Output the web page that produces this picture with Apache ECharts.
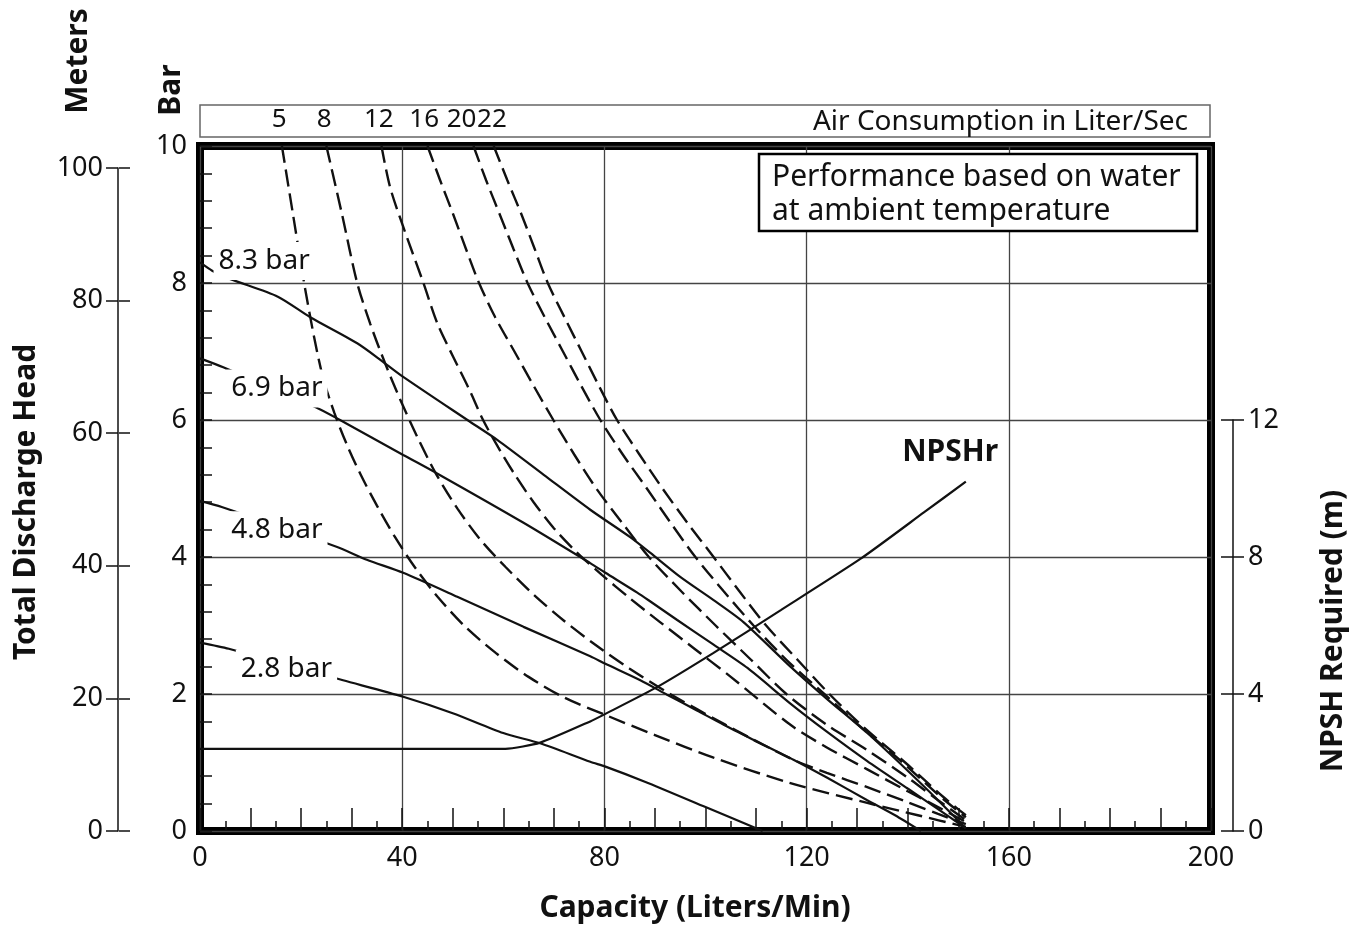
<!DOCTYPE html>
<html><head><meta charset="utf-8">
<script src="https://cdn.jsdelivr.net/npm/echarts@6/dist/echarts.min.js"></script>
<style>html,body{margin:0;padding:0;background:#fff}#c{width:1364px;height:927px}</style>
</head><body><div id="c"></div>
<script>
// ---------- DATA ----------
// Capacity (L/min) vs head (bar) for constant air-consumption curves (dashed)
const air5  = [[16.2,10],[18.4,9],[20.6,8],[22.6,7.2],[24.4,6.6],[26.6,6.1],[29,5.65],[31.8,5.2],[35,4.75],[38.5,4.3],[42.5,3.85],[47,3.42],[52.5,2.98],[58.5,2.6],[65,2.25],[72,1.95],[80,1.7],[90,1.4],[101.6,1.07],[116.8,0.7],[132,0.41],[142,0.23],[151.5,0.06]];
const air8  = [[25,10],[28.1,9],[31.1,8],[33.7,7.4],[36.5,6.85],[39.6,6.3],[43,5.75],[46.8,5.2],[51,4.7],[55.5,4.25],[60.5,3.85],[66,3.45],[72,3.07],[78,2.73],[85,2.37],[93,2.0],[104,1.55],[116.8,1.06],[124,0.85],[132,0.64],[140,0.42],[146,0.25],[151.5,0.1]];
const air12 = [[35.9,10],[37.6,9.4],[40.3,8.8],[44.2,8.0],[46.9,7.42],[50.1,6.92],[53.3,6.44],[56,6.0],[59,5.6],[62.3,5.2],[66,4.8],[70,4.42],[74.5,4.07],[79.5,3.74],[85,3.4],[91,3.05],[98,2.65],[105,2.25],[116.8,1.55],[124,1.22],[132,0.9],[140,0.58],[146,0.35],[151.5,0.13]];
const air16 = [[45,10],[47.5,9.5],[50.1,9],[52.6,8.5],[55.2,8],[58.4,7.5],[62.2,7],[66,6.5],[69.9,6],[74,5.5],[78.4,5],[83.5,4.5],[88.8,4],[95.2,3.5],[102,3],[109,2.5],[116,2],[124,1.55],[132,1.18],[140,0.78],[146,0.45],[151.5,0.16]];
const air20 = [[54.1,10],[56.6,9.5],[59.3,9],[62,8.5],[64.8,8],[68.2,7.5],[71.8,7],[75.4,6.5],[79.2,6],[83.6,5.5],[88.4,5],[93.1,4.5],[98,4],[103.6,3.5],[109.5,3],[116,2.5],[123.5,2],[131,1.5],[139,1],[146.5,0.5],[151.5,0.2]];
const air22 = [[58.1,10],[60.8,9.5],[63.6,9],[66.2,8.5],[68.8,8],[72.1,7.5],[75.5,7],[78.9,6.5],[82.5,6],[86.9,5.5],[91.5,5],[96.4,4.5],[101.6,4],[106.7,3.5],[112,3],[118.2,2.5],[124.5,2],[131.5,1.5],[139.5,1],[147,0.5],[151.5,0.23]];
// Constant air-pressure curves (solid)
const p83 = [[0,8.3],[2.4,8.18],[5.9,8.06],[15.4,7.8],[21.8,7.5],[31.1,7.12],[36.2,6.85],[40.2,6.63],[52.9,6.0],[58.8,5.71],[68,5.2],[77.2,4.69],[85.1,4.29],[89.1,4.06],[95,3.71],[101.6,3.37],[107.5,3.05],[116.8,2.4],[124,1.93],[132,1.43],[140,0.88],[146,0.45],[151.5,0.04]];
const p69 = [[0,6.9],[4.6,6.77],[22.8,6.19],[27.7,6.0],[40.2,5.49],[46.9,5.22],[64,4.5],[77.2,3.91],[80.2,3.77],[86.5,3.48],[89.1,3.35],[94.4,3.08],[101.6,2.72],[108.3,2.38],[116.8,1.86],[124,1.45],[132,1.02],[140,0.62],[146,0.32],[151.5,0.04]];
const p48 = [[0,4.82],[4.3,4.73],[27,4.15],[33,3.96],[40.2,3.77],[50.9,3.42],[64,2.98],[77.2,2.55],[80.2,2.44],[87.1,2.2],[92.4,1.99],[98.3,1.76],[103.6,1.55],[109.5,1.33],[117.4,1.04],[124,0.78],[132,0.45],[137.5,0.23],[142.6,0]];
const p28 = [[0,2.75],[5.7,2.66],[28.3,2.2],[40.2,1.96],[50,1.72],[60,1.43],[67.3,1.28],[77.2,1.01],[80.2,0.94],[88,0.72],[100,0.35],[111.3,0]];
// NPSH required (m)
const npshr = [[0,2.4],[60.4,2.4],[67.3,2.58],[77.2,3.2],[80.2,3.42],[90.4,4.2],[101.6,5.2],[114.9,6.45],[130.7,7.95],[143.2,9.3],[151.5,10.2]];

const airNames = ['5','8','12','16','20','22'];
const airLabelAt = [15.7,24.6,35.4,44.4,51.8,57.8];
const pressureNames = ['8.3 bar','6.9 bar','4.8 bar','2.8 bar'];
const pressureLabelAt = [[12.7,8.32],[15.2,6.46],[15.2,4.39],[17.1,2.37]];
const npshName = 'NPSHr';
const npshLabelAt = [148.4,5.52];

const capacityTicks = [0,40,80,120,160,200];
const barTicks = [0,2,4,6,8,10];
const meterTicks = [0,20,40,60,80,100];
const npshTicks = [0,4,8,12];

// ---------- CHART ----------
const FONT = "'Noto Sans', sans-serif";
const INK = '#111';
const chart = echarts.init(document.getElementById('c'));
const tickStyle = {color: INK, width: 1.5};

const dashed = [[air5,'5'],[air8,'8'],[air12,'12'],[air16,'16'],[air20,'20'],[air22,'22']].map(([d,n]) => ({
  type:'line', name:'air'+n, data:d, xAxisIndex:0, yAxisIndex:0, symbol:'none', smooth:0.3,
  lineStyle:{color:INK, width:2.4, type:[17,7]}, silent:true, z:2
}));
const solid = [[p83,'8.3'],[p69,'6.9'],[p48,'4.8'],[p28,'2.8']].map(([d,n]) => ({
  type:'line', name:'p'+n, data:d, xAxisIndex:0, yAxisIndex:0, symbol:'none', smooth:0.25,
  lineStyle:{color:INK, width:2.2}, silent:true, z:3
}));

const option = {
  animation:false,
  backgroundColor:'#fff',
  textStyle:{fontFamily:FONT, color:INK},
  grid:[
    {left:200, top:146, width:1011, height:685, show:true, borderWidth:8, borderColor:'#000', backgroundColor:'transparent', z:0},
    {left:118, top:168, width:1, height:663},
    {left:1233, top:420, width:1, height:411},
    {left:200, top:105, width:1010, height:32, show:true, borderWidth:1.5, borderColor:'#666'}
  ],
  xAxis:[
    {gridIndex:0, type:'value', min:0, max:200, interval:10, position:'bottom',
      axisLine:{show:false},
      axisTick:{show:true, inside:true, length:23, lineStyle:tickStyle},
      minorTick:{show:true, splitNumber:2, length:10, lineStyle:tickStyle},
      axisLabel:{fontSize:27, color:INK, margin:14, formatter:v => capacityTicks.includes(v) ? String(v) : ''},
      splitLine:{show:false}},
    {gridIndex:0, type:'value', min:0, max:200, interval:40, position:'top',
      axisLine:{show:false}, axisTick:{show:false}, axisLabel:{show:false},
      splitLine:{show:true, lineStyle:{color:'#444', width:1.3}}},
    {gridIndex:1, type:'value', min:0, max:1, show:false},
    {gridIndex:2, type:'value', min:0, max:1, show:false},
    {gridIndex:3, type:'value', min:0, max:200, position:'bottom',
      axisLine:{show:false}, axisTick:{show:false}, splitLine:{show:false},
      axisLabel:{show:true, inside:true, margin:4, fontSize:26, color:INK, customValues:airLabelAt,
        formatter:v => airNames[airLabelAt.indexOf(v)] ?? ''}}
  ],
  yAxis:[
    {gridIndex:0, type:'value', min:0, max:10, interval:2, position:'left',
      axisLine:{show:false},
      axisTick:{show:true, inside:true, length:12, lineStyle:tickStyle},
      minorTick:{show:true, splitNumber:5, length:12, lineStyle:tickStyle},
      axisLabel:{fontSize:27, color:INK, margin:13, formatter:v => barTicks.includes(v) ? String(v) : ''},
      splitLine:{show:true, lineStyle:{color:'#444', width:1.3}}},
    {gridIndex:0, type:'value', min:0, max:20, position:'right', show:false},
    {gridIndex:1, type:'value', min:0, max:100, interval:20, position:'left',
      axisLine:{show:true, lineStyle:{color:INK, width:1.5}},
      axisTick:{show:true, length:12, lineStyle:tickStyle},
      axisLabel:{fontSize:27, color:INK, margin:15, formatter:v => meterTicks.includes(v) ? String(v) : ''},
      splitLine:{show:false}},
    {gridIndex:1, type:'value', min:0, max:100, interval:20, position:'right',
      axisLine:{show:false}, axisTick:{show:true, length:11, lineStyle:tickStyle},
      axisLabel:{show:false}, splitLine:{show:false}},
    {gridIndex:2, type:'value', min:0, max:12, interval:4, position:'right',
      axisLine:{show:true, lineStyle:{color:INK, width:1.5}},
      axisTick:{show:true, length:11, lineStyle:tickStyle},
      axisLabel:{fontSize:27, color:INK, margin:14, formatter:v => npshTicks.includes(v) ? String(v) : ''},
      splitLine:{show:false}},
    {gridIndex:2, type:'value', min:0, max:12, interval:4, position:'left',
      axisLine:{show:false}, axisTick:{show:true, length:12, lineStyle:tickStyle},
      axisLabel:{show:false}, splitLine:{show:false}},
    {gridIndex:3, type:'value', min:0, max:1, show:false}
  ],
  series:[
    ...dashed,
    ...solid,
    {type:'line', name:'NPSHr', data:npshr, xAxisIndex:0, yAxisIndex:1, symbol:'none', smooth:0.2,
      lineStyle:{color:INK, width:2.2}, silent:true, z:3},
    {type:'scatter', name:'pressureLabels', xAxisIndex:0, yAxisIndex:0, symbolSize:1, silent:true, z:10,
      itemStyle:{color:'rgba(0,0,0,0)', opacity:1},
      data: pressureNames.map((n,i) => ({name:n, value:pressureLabelAt[i]})),
      label:{show:true, position:'inside', formatter:p => p.name, fontSize:28, color:INK, opacity:1,
        backgroundColor:'#fff', padding:[2,5,8,5]}},
    {type:'scatter', name:'npshLabel', xAxisIndex:0, yAxisIndex:0, symbolSize:1, silent:true, z:10,
      itemStyle:{color:'rgba(0,0,0,0)', opacity:1},
      data:[{name:npshName, value:npshLabelAt}],
      label:{show:true, position:'inside', formatter:p => p.name, fontSize:30, fontWeight:'bold', color:INK, opacity:1}}
  ],
  graphic:[
    {type:'text', x:1188, y:122, z:100, style:{text:'Air Consumption in Liter/Sec', font:"28px 'Noto Sans'", fill:INK, textAlign:'right', textVerticalAlign:'middle'}},
    {type:'rect', z:100, shape:{x:759, y:154, width:438, height:77}, style:{fill:'#fff', stroke:'#000', lineWidth:2.5}},
    {type:'text', x:772, y:177, z:101, style:{text:'Performance based on water', font:"30px 'Noto Sans'", fill:INK, textAlign:'left', textVerticalAlign:'middle'}},
    {type:'text', x:772, y:211, z:101, style:{text:'at ambient temperature', font:"30px 'Noto Sans'", fill:INK, textAlign:'left', textVerticalAlign:'middle'}},
    {type:'text', x:78, y:61, rotation:Math.PI/2, z:100, style:{text:'Meters', font:"bold 30px 'Noto Sans'", fill:INK, textAlign:'center', textVerticalAlign:'middle'}},
    {type:'text', x:171, y:90, rotation:Math.PI/2, z:100, style:{text:'Bar', font:"bold 30px 'Noto Sans'", fill:INK, textAlign:'center', textVerticalAlign:'middle'}},
    {type:'text', x:26, y:502, rotation:Math.PI/2, z:100, style:{text:'Total Discharge Head', font:"bold 30px 'Noto Sans'", fill:INK, textAlign:'center', textVerticalAlign:'middle'}},
    {type:'text', x:1333, y:631, rotation:Math.PI/2, z:100, style:{text:'NPSH Required (m)', font:"bold 30px 'Noto Sans'", fill:INK, textAlign:'center', textVerticalAlign:'middle'}},
    {type:'text', x:695, y:908, z:100, style:{text:'Capacity (Liters/Min)', font:"bold 30px 'Noto Sans'", fill:INK, textAlign:'center', textVerticalAlign:'middle'}}
  ]
};
chart.setOption(option);
</script>
</body></html>
